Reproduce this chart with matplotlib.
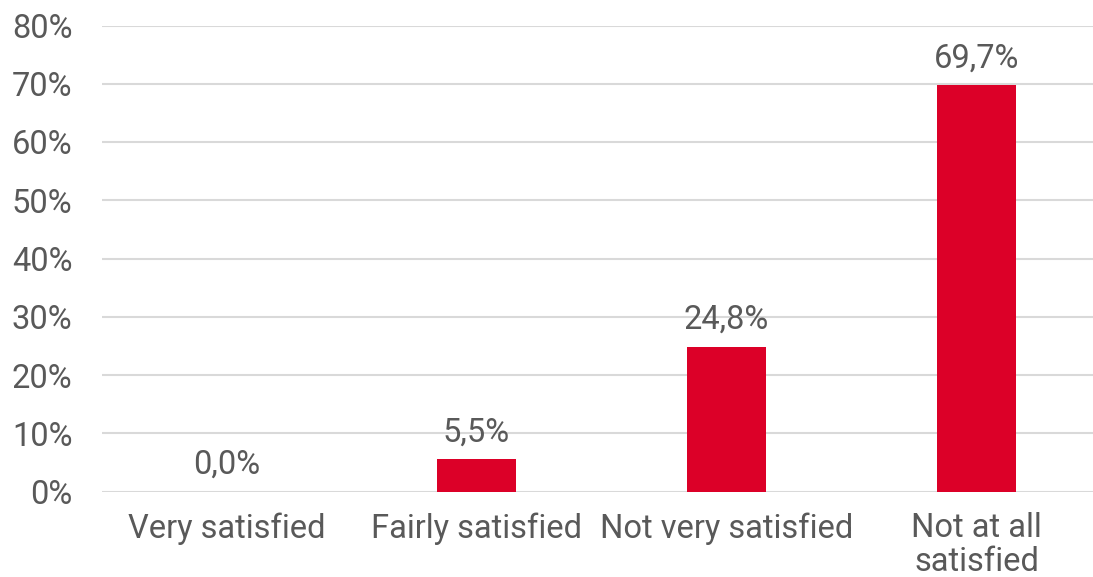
import matplotlib
matplotlib.use("Agg")
import matplotlib.pyplot as plt
from matplotlib.ticker import FuncFormatter

categories = ["Very satisfied", "Fairly satisfied", "Not very satisfied", "Not at all\nsatisfied"]
values = [0.0, 5.5, 24.8, 69.7]
yticks = [0, 10, 20, 30, 40, 50, 60, 70, 80]

plt.rcParams['font.family'] = ['Roboto', 'DejaVu Sans']
text_color = "#595959"
bar_color = "#DC0028"
FS = 23.5

W, H = 1093, 577
fig = plt.figure(figsize=(W / 100, H / 100), dpi=100)
left = 101.5 / W
width = 1000 / W
bottom = (H - 491.5) / H
top = (H - 25.5) / H
ax = fig.add_axes([left, bottom, width, top - bottom])

x = list(range(len(categories)))
ax.bar(x, values, width=0.316, color=bar_color, zorder=3)
for xi, v in zip(x, values):
    ax.annotate(f"{v:.1f}".replace(".", ",") + "%", (xi, v), xytext=(0, 13),
                textcoords="offset points", ha="center", va="baseline",
                fontsize=FS, color=text_color)

ax.set_xlim(-0.5, 3.5)
ax.set_ylim(0, 80)
ax.set_yticks(yticks)
ax.yaxis.set_major_formatter(FuncFormatter(lambda v, p: f"{int(v)}%"))
ax.set_xticks(x)
ax.set_xticklabels(categories, linespacing=1.08)
ax.tick_params(axis="y", length=0, pad=21, labelsize=FS, labelcolor=text_color)
ax.tick_params(axis="x", length=0, pad=15, labelsize=FS, labelcolor=text_color)
ax.grid(axis="y", color="#d9d9d9", linewidth=1.5, zorder=0)
for s in ax.spines.values():
    s.set_visible(False)

fig.savefig("out.png", dpi=100)
